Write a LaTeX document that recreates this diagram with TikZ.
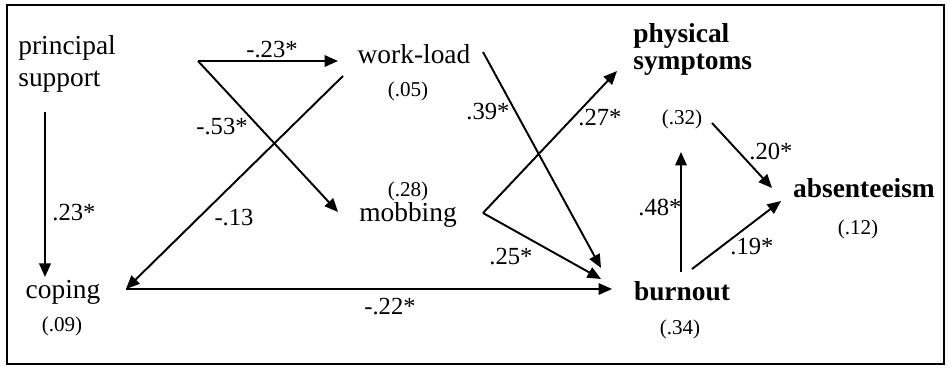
\documentclass[tikz,border=0pt]{standalone}
\usepackage{fontspec}
\setmainfont{Liberation Serif}
\usetikzlibrary{arrows.meta}

\begin{document}
\begin{tikzpicture}[
    var/.style={inner sep=0pt, font=\fontsize{15.6}{18.6}\selectfont, align=left},
    outvar/.style={inner sep=0pt, font=\fontsize{15.6}{15.4}\selectfont\bfseries, align=left},
    rsq/.style={inner sep=0pt, font=\fontsize{12}{14}\selectfont},
    coef/.style={inner sep=0pt, font=\fontsize{14}{16}\selectfont},
    arr/.style={-{Triangle[length=2.7mm,width=2.3mm]}, line width=1.1pt}
  ]
  \useasboundingbox (0,0) rectangle (19.02,7.36);
  \draw[line width=1.6pt] (0.14,0.08) rectangle (18.88,7.26);

  % variables
  \node[var, anchor=base west] (psupport) at (0.36,5.62) {principal\\support};
  \node[var, anchor=base] (coping) at (1.26,1.38) {coping};
  \node[rsq, anchor=base] (copingR) at (1.24,0.72) {(.09)};
  \node[var, anchor=base] (workload) at (8.28,6.08) {work-load};
  \node[rsq, anchor=base] (workloadR) at (8.16,5.42) {(.05)};
  \node[rsq, anchor=base] (mobbingR) at (8.16,3.42) {(.28)};
  \node[var, anchor=base] (mobbing) at (8.16,2.92) {mobbing};
  \node[outvar, anchor=base west] (physical) at (12.66,5.96) {physical\\symptoms};
  \node[rsq, anchor=base] (physicalR) at (13.64,4.86) {(.32)};
  \node[outvar, anchor=base] (absent) at (17.28,3.40) {absenteeism};
  \node[rsq, anchor=base] (absentR) at (17.16,2.66) {(.12)};
  \node[outvar, anchor=base] (burnout) at (13.64,1.34) {burnout};
  \node[rsq, anchor=base] (burnoutR) at (13.60,0.66) {(.34)};

  % arrow ends
  \coordinate (split) at (3.96,6.14);
  \coordinate (psDown) at (0.90,5.12);
  \coordinate (copingTop) at (0.90,1.82);
  \coordinate (copingEast) at (2.52,1.58);
  \coordinate (workloadWest) at (6.76,6.14);
  \coordinate (workloadOut) at (6.86,5.84);
  \coordinate (workloadEast) at (9.66,6.32);
  \coordinate (mobbingWest) at (6.76,3.12);
  \coordinate (mobbingEast) at (9.66,3.10);
  \coordinate (burnoutIn1) at (12.02,2.00);
  \coordinate (burnoutIn2) at (12.02,1.78);
  \coordinate (burnoutWest) at (12.24,1.58);
  \coordinate (burnoutTop) at (13.62,1.92);
  \coordinate (burnoutNE) at (13.84,1.98);
  \coordinate (physicalIn) at (12.34,5.94);
  \coordinate (physicalBot) at (13.62,4.32);
  \coordinate (physicalOut) at (14.24,4.90);
  \coordinate (absentIn1) at (15.44,3.60);
  \coordinate (absentIn2) at (15.62,3.34);

  \draw[arr] (psDown) -- (copingTop);
  \draw[arr] (split) -- (workloadWest);
  \draw[arr] (split) -- (mobbingWest);
  \draw[arr] (workloadOut) -- (copingEast);
  \draw[arr] (copingEast) -- (burnoutWest);
  \draw[arr] (workloadEast) -- (burnoutIn1);
  \draw[arr] (mobbingEast) -- (physicalIn);
  \draw[arr] (mobbingEast) -- (burnoutIn2);
  \draw[arr] (burnoutTop) -- (physicalBot);
  \draw[arr] (burnoutNE) -- (absentIn2);
  \draw[arr] (physicalOut) -- (absentIn1);

  % path coefficients
  \node[coef, anchor=base] (cPsWl) at (5.44,6.20) {-.23*};
  \node[coef, anchor=base] (cPsMb) at (4.44,4.66) {-.53*};
  \node[coef, anchor=base] (cWlCp) at (4.68,2.84) {-.13};
  \node[coef, anchor=base] (cPsCp) at (1.48,2.94) {.23*};
  \node[coef, anchor=base] (cWlBo) at (9.76,4.96) {.39*};
  \node[coef, anchor=base] (cMbPh) at (12.00,4.84) {.27*};
  \node[coef, anchor=base] (cMbBo) at (10.22,2.06) {.25*};
  \node[coef, anchor=base] (cBoPh) at (13.20,3.04) {.48*};
  \node[coef, anchor=base] (cPhAb) at (15.42,4.16) {.20*};
  \node[coef, anchor=base] (cBoAb) at (15.04,2.26) {.19*};
  \node[coef, anchor=base] (cCpBo) at (7.80,1.06) {-.22*};
\end{tikzpicture}
\end{document}
